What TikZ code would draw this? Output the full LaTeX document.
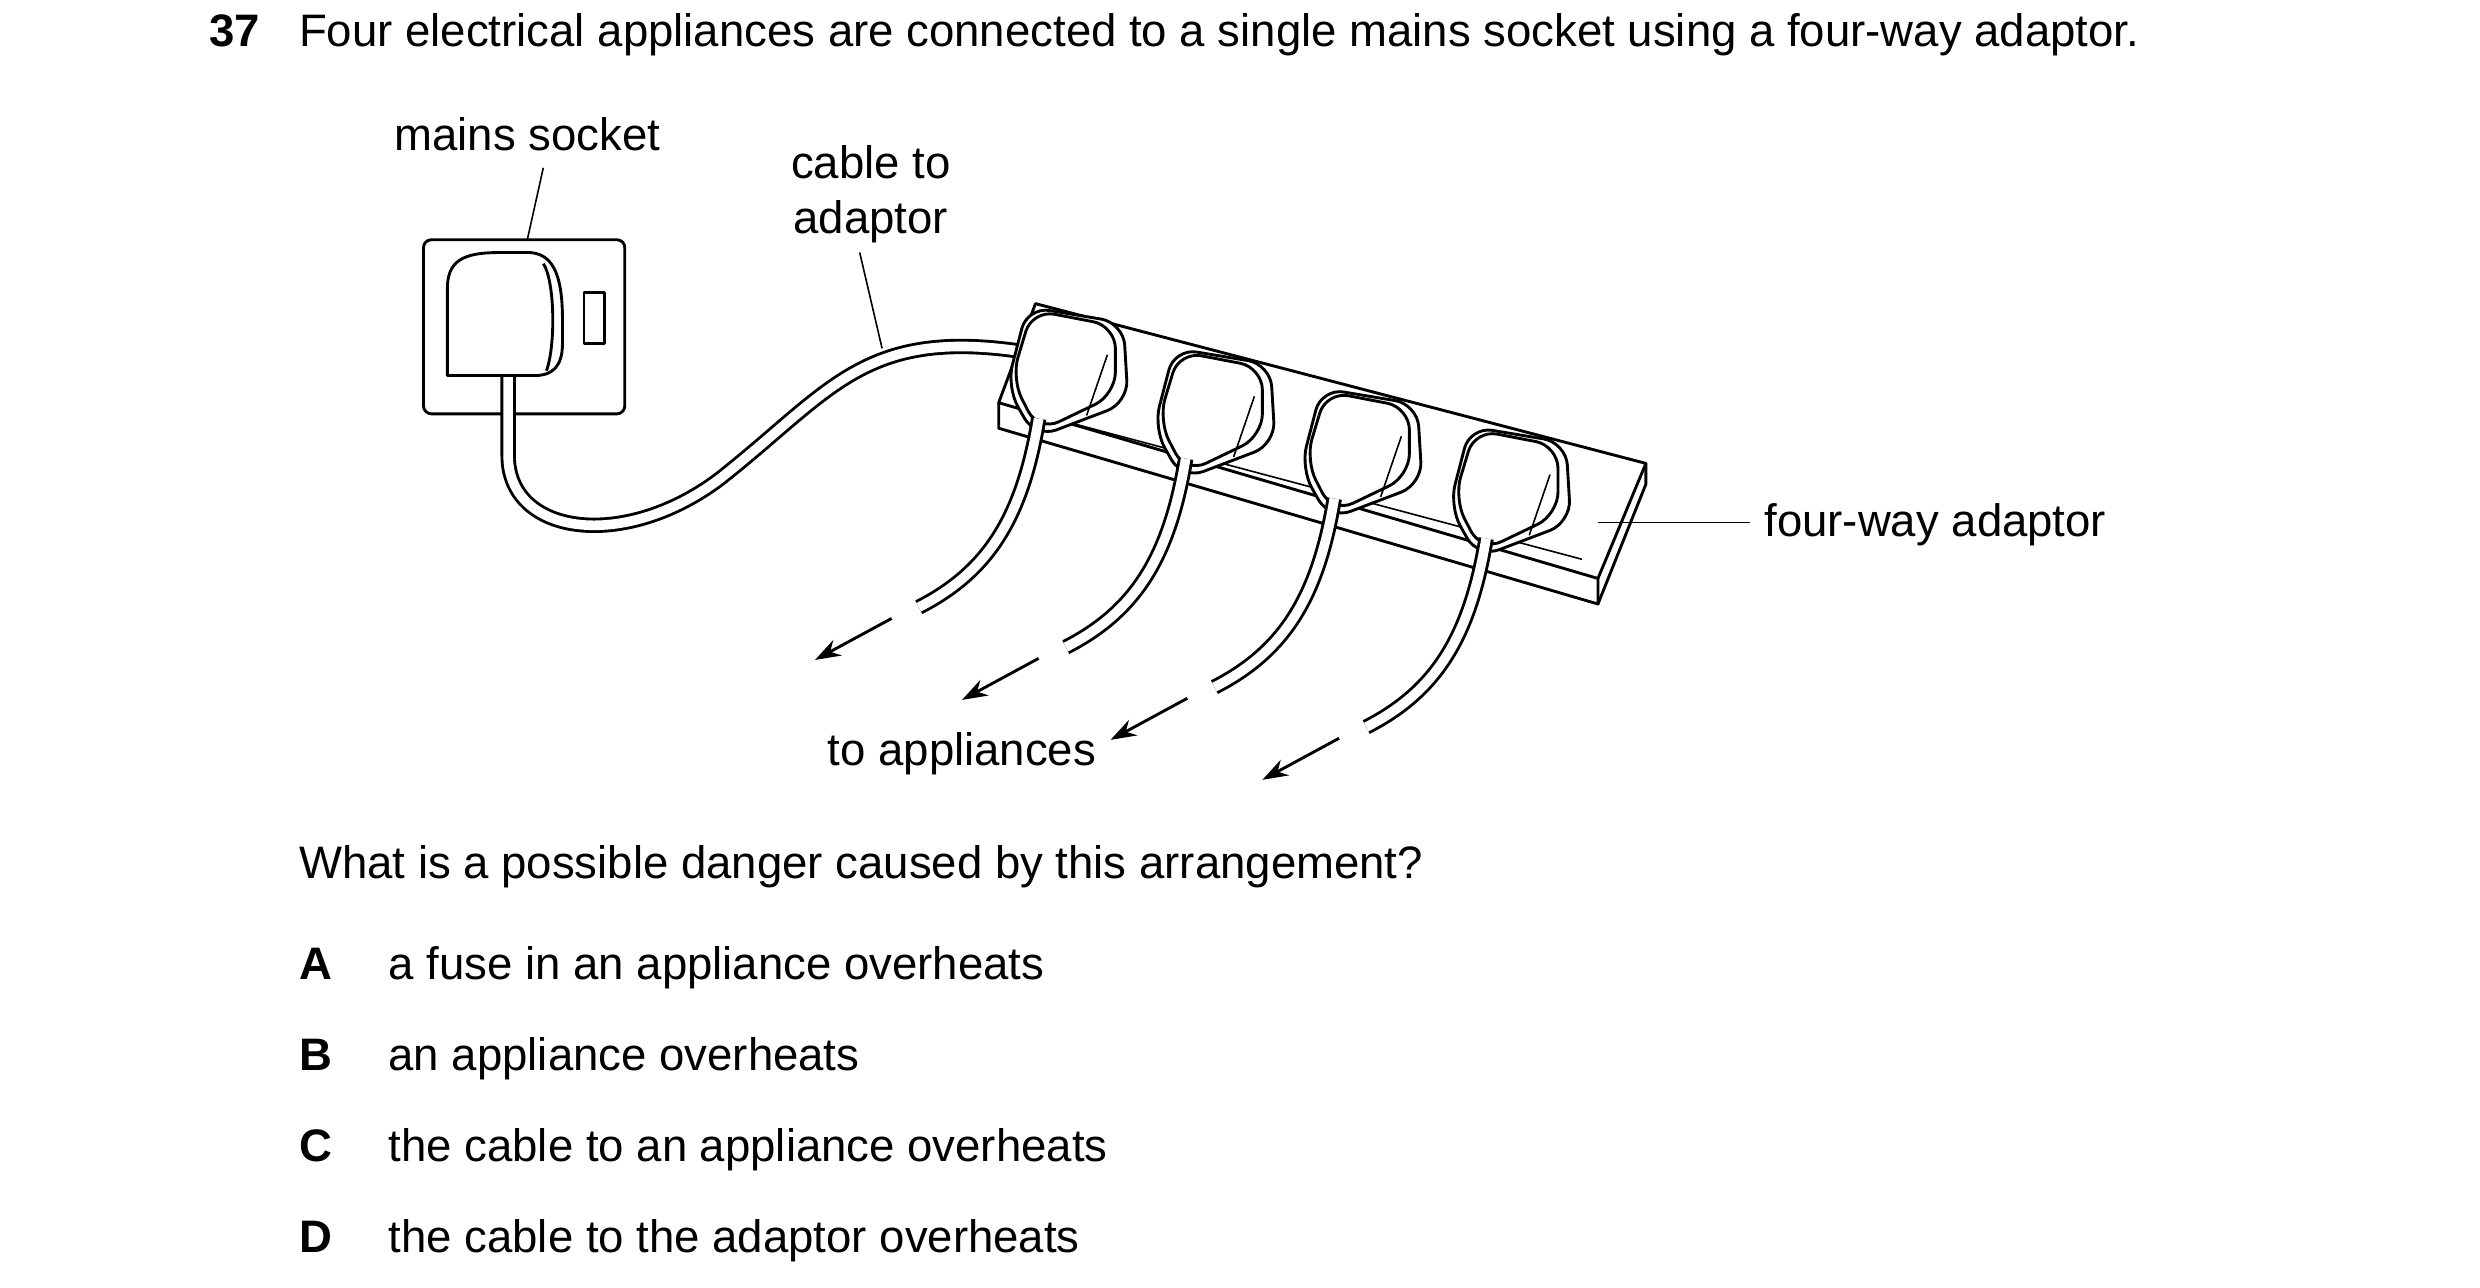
\documentclass[tikz,border=0pt]{standalone}
\usepackage{fontspec}
\setmainfont{Liberation Sans}
\usetikzlibrary{arrows.meta}
\begin{document}
\begin{tikzpicture}[x=1pt,y=-1pt,
  txt/.style={font=\fontsize{28.5}{32}\selectfont,inner sep=0pt},
  ln/.style={line width=1.8pt,line join=round},
  thin/.style={line width=1pt},
  cab/.style={line width=1.8pt,double=white,double distance=6pt},
  arr/.style={line width=1.8pt,-{Stealth[length=16pt,width=11pt]}},
  plug/.style={ln,fill=white,rounded corners=14pt}]
\useasboundingbox (0,0) rectangle (1552,806);
% texts
\node[txt,anchor=base west,font=\fontsize{28.5}{32}\selectfont\bfseries] (n37) at (131,29) {37};
\node[txt,anchor=base west] (q) at (187,29) {Four electrical appliances are connected to a single mains socket using a four-way adaptor.};
\node[txt,anchor=base] (ms) at (330,94) {mains socket};
\node[txt,anchor=base] (ct1) at (545,112) {cable to};
\node[txt,anchor=base] (ct2) at (545,146) {adaptor};
\node[txt,anchor=base west] (fw) at (1104,336) {four-way adaptor};
\node[txt,anchor=base] (ta) at (602,479) {to appliances};
\node[txt,anchor=base west] (w) at (187,550) {What is a possible danger caused by this arrangement?};
\foreach \l/\t/\y [count=\i] in {A/a fuse in an appliance overheats/613,B/an appliance overheats/670,C/the cable to an appliance overheats/727,D/the cable to the adaptor overheats/784}{
  \node[txt,anchor=base west,font=\fontsize{28.5}{32}\selectfont\bfseries] (L\i) at (187,\y) {\l};
  \node[txt,anchor=base west] (T\i) at (243,\y) {\t};
}
% socket
\node[ln,draw,rounded corners=5pt,minimum width=126pt,minimum height=109pt,inner sep=0pt] (sock) at (328,204.5) {};
\node[draw,ln,minimum width=13pt,minimum height=32pt,inner sep=0pt] (sw) at (372,199) {};
\draw[ln] (300,235) -- (280,235) -- (280,180) .. controls (280,160) and (295,158) .. (315,158) -- (330,158) .. controls (345,158) and (352,170) .. (352,200) -- (352,215) .. controls (352,230) and (345,235) .. (335,235) -- cycle;
\draw[ln] (340,165) .. controls (347,175) and (348,215) .. (342,232);
\coordinate (ml) at (340,105);
\draw[thin] (ml) -- (330,150);
\coordinate (cl) at (538,158);
\draw[thin] (cl) -- (552,218);
% cable to adaptor
\draw[cab] (318,236) -- (318,285) .. controls (318,335) and (390,345) .. (450,300) .. controls (520,245) and (540,205) .. (640,220);
% adaptor
\draw[ln,fill=white] (648,190) -- (1030,290) -- (1000,362) -- (625,252) -- cycle;
\draw[ln] (625,252) -- (625,268) -- (1000,378) -- (1000,362);
\draw[ln] (1000,378) -- (1030,303) -- (1030,290);
\draw[thin] (660,262) -- (990,350);
\coordinate (fl) at (1000,327);
\draw[thin] (fl) -- (1095,327);
% plugs and cables
\foreach \cx/\cy [count=\k] in {668/232,760/258,852/283,945/307}{
  \begin{scope}[shift={(\cx,\cy)}]
    \draw[plug] (-38,10) -- (-25,-40) -- (35,-30) -- (38,20) -- (-20,42) -- cycle;
    \draw[plug] (-35,5) -- (-22,-38) -- (30,-28) -- (30,15) -- (-18,38) -- cycle;
    \draw[thin] (25,-10) -- (12,28);
  \end{scope}
}
\foreach \sx/\sy [count=\k] in {650/262,742/287,835/312,930/337}{
  \draw[cab] (\sx,\sy) .. controls (\sx-10,\sy+60) and (\sx-30,\sy+95) .. (\sx-75,\sy+118);
  \coordinate (a\k) at (\sx-92,\sy+125);
  \coordinate (b\k) at (\sx-140,\sy+151);
  \draw[arr] (a\k) -- (b\k);
}
\end{tikzpicture}
\end{document}
